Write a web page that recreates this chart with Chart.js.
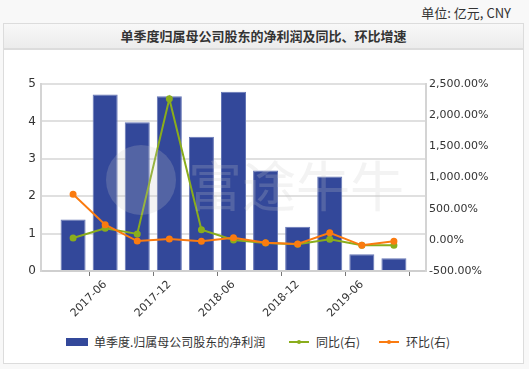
<!DOCTYPE html>
<html lang="zh">
<head>
    <meta charset="UTF-8">
    <title>单季度归属母公司股东的净利润及同比、环比增速</title>
    <script src="https://cdn.jsdelivr.net/npm/chart.js"></script>
    <style>
        body { margin: 0; width: 529px; height: 369px; background: #f8f8f8; position: relative; overflow: hidden;
               font-family: "Noto Sans CJK SC", "DejaVu Sans", sans-serif; color: #333; }
        #unit { position: absolute; right: 18px; top: 3px; font-size: 13px; color: #333; }
        #box { position: absolute; left: 3px; top: 23px; width: 519px; height: 339px; background: #fff; border: 1px solid #dcdcdc; }
        #title { height: 24px; line-height: 24px; text-align: center; font-size: 13px; font-weight: bold; color: #333;
                 background: linear-gradient(#f8f8f8, #ececec); border-bottom: 2px solid #dcdcdc; }
        #chartWrap { position: absolute; left: 0; top: 26px; width: 519px; height: 275px; }
        #legend { position: absolute; left: 0; top: 308px; width: 519px; height: 20px; font-size: 12px; }
        .item { position: absolute; top: 0; line-height: 20px; white-space: nowrap; }
        .swatch { position: absolute; top: 6px; width: 22px; height: 8px; }
        .lineSw { position: absolute; top: 9px; width: 20px; height: 2px; }
        .lineSw i { position: absolute; left: 8px; top: -1px; width: 4px; height: 4px; border-radius: 2px; background: inherit; }
    </style>
</head>
<body>
    <div id="unit">单位: 亿元, CNY</div>
    <div id="box">
        <div id="title">单季度归属母公司股东的净利润及同比、环比增速</div>
        <div id="chartWrap"><canvas id="myChart" width="519" height="275"></canvas></div>
        <div id="legend"></div>
    </div>

    <script>
        // quarters (empty slots at both ends give the side padding)
        const quarters = ['', '2017-03', '2017-06', '2017-09', '2017-12', '2018-03', '2018-06',
                          '2018-09', '2018-12', '2019-03', '2019-06', '2019-09', ''];
        const shownLabels = ['2017-06', '2017-12', '2018-06', '2018-12', '2019-06'];

        // net profit, 100M CNY
        const netProfit = [null, 1.38, 4.72, 3.98, 4.67, 3.59, 4.79, 2.69, 1.18, 2.53, 0.45, 0.34, null];
        // year-on-year growth, %
        const yoy = [null, 29, 185, 94, 2264, 163, -3, -50, -72, 8, -88, -88, null];
        // quarter-on-quarter growth, %
        const qoq = [null, 730, 243, -19, 13, -24, 34, -46, -67, 114, -88, -24, null];

        const leftTicks = [0, 1, 2, 3, 4, 5];
        const rightTicks = [-500, 0, 500, 1000, 1500, 2000, 2500];

        const barColor = '#33489a';
        const greenColor = '#8aad1c';
        const orangeColor = '#fa7b10';

        // faint watermark over the plot
        const watermark = {
            id: 'watermark',
            afterDatasetsDraw(chart) {
                const c = chart.ctx;
                c.save();
                c.fillStyle = 'rgba(200,200,200,0.22)';
                c.beginPath();
                c.arc(137, 130, 35, 0, Math.PI * 2);
                c.fill();
                c.font = '54px "Noto Sans CJK SC"';
                c.textBaseline = 'middle';
                c.fillText('富途牛牛', 184, 136);
                c.restore();
            }
        };

        const tickFont = { family: 'DejaVu Sans', size: 11 };

        const chart = new Chart(document.getElementById('myChart').getContext('2d'), {
            type: 'bar',
            data: {
                labels: quarters,
                datasets: [
                    {
                        type: 'line', label: '同比(右)', data: yoy, yAxisID: 'y1',
                        borderColor: greenColor, backgroundColor: greenColor, borderWidth: 2,
                        pointRadius: 2.5, pointHoverRadius: 2.5, order: 1
                    },
                    {
                        type: 'line', label: '环比(右)', data: qoq, yAxisID: 'y1',
                        borderColor: orangeColor, backgroundColor: orangeColor, borderWidth: 2,
                        pointRadius: 2.5, pointHoverRadius: 2.5, order: 0
                    },
                    {
                        label: '单季度.归属母公司股东的净利润', data: netProfit, yAxisID: 'y',
                        backgroundColor: barColor, borderColor: '#6576b5', borderWidth: 1,
                        categoryPercentage: 1, barPercentage: 0.78, order: 2
                    }
                ]
            },
            options: {
                responsive: false,
                animation: false,
                layout: { padding: { top: 34, left: 0, right: 0, bottom: 0 } },
                plugins: { legend: { display: false }, tooltip: { enabled: false } },
                scales: {
                    x: {
                        offset: false,
                        grid: {
                            drawOnChartArea: false, tickLength: 5,
                            color: ctx => (shownLabels.includes(quarters[ctx.index]) || ctx.index === 0 || ctx.index === quarters.length - 1) ? '#777' : 'rgba(0,0,0,0)'
                        },
                        border: { color: '#cfcfcf', width: 2 },
                        ticks: {
                            autoSkip: false, minRotation: 45, maxRotation: 45, padding: 2,
                            color: '#333', font: tickFont,
                            callback: (v, i) => shownLabels.includes(quarters[i]) ? quarters[i] : ''
                        },
                        afterFit: s => { s.height = 54; }
                    },
                    y: {
                        position: 'left', min: 0, max: 5,
                        afterBuildTicks: s => { s.ticks = leftTicks.map(v => ({ value: v })); },
                        grid: { color: '#e0e0e0', lineWidth: 2, drawTicks: false },
                        border: { color: '#d4d4d4', width: 2 },
                        ticks: { color: '#333', font: { family: 'DejaVu Sans', size: 12 }, padding: 5 },
                        afterFit: s => { s.width = 37; }
                    },
                    y1: {
                        position: 'right', min: -500, max: 2500,
                        afterBuildTicks: s => { s.ticks = rightTicks.map(v => ({ value: v })); },
                        grid: { drawOnChartArea: false, drawTicks: false },
                        border: { color: '#d4d4d4', width: 2 },
                        ticks: {
                            color: '#333', font: tickFont, padding: 3,
                            callback: v => v.toLocaleString('en-US', { minimumFractionDigits: 2, maximumFractionDigits: 2 }) + '%'
                        },
                        afterFit: s => { s.width = 97; }
                    }
                }
            },
            plugins: [watermark]
        });

        // legend in html, same order as the reference
        const legendItems = [
            { text: chart.data.datasets[2].label, color: barColor, bar: true, left: 62, textLeft: 90 },
            { text: chart.data.datasets[0].label, color: greenColor, bar: false, left: 285, textLeft: 312 },
            { text: chart.data.datasets[1].label, color: orangeColor, bar: false, left: 375, textLeft: 402 }
        ];
        const legend = document.getElementById('legend');
        legendItems.forEach(it => {
            const sw = document.createElement('div');
            sw.className = it.bar ? 'swatch' : 'lineSw';
            sw.style.left = it.left + 'px';
            sw.style.background = it.color;
            if (!it.bar) sw.appendChild(document.createElement('i'));
            legend.appendChild(sw);
            const t = document.createElement('div');
            t.className = 'item';
            t.style.left = it.textLeft + 'px';
            t.textContent = it.text;
            legend.appendChild(t);
        });
    </script>
</body>
</html>
